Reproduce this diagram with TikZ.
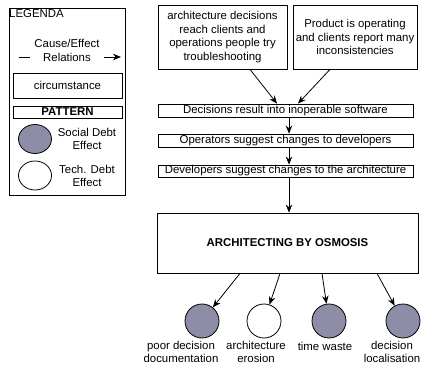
\documentclass[tikz,border=0pt]{standalone}
\usepackage{fontspec}
\setmainfont{Liberation Sans}
\usetikzlibrary{arrows.meta,shapes.geometric}
\definecolor{social}{RGB}{141,141,167}
\begin{document}
\begin{tikzpicture}[x=1pt,y=-1pt,
  every node/.style={font=\fontsize{11.4}{13.7}\selectfont},
  box/.style={draw, line width=0.8pt, inner sep=0pt, align=center},
  arr/.style={-{Stealth[length=8pt,width=6.5pt]}, line width=0.8pt},
  sdebt/.style={draw, circle, fill=social, minimum size=34pt, inner sep=0pt, line width=0.8pt},
  tdebt/.style={draw, circle, fill=white, minimum size=34pt, inner sep=0pt, line width=0.8pt},
  lbl/.style={align=center, inner sep=0pt}]
\useasboundingbox (0,0) rectangle (421,369);

% ---- legend ----
\node[box, minimum width=116pt, minimum height=187pt] (legend) at (67,101.5) {};
\node[anchor=north west, inner sep=0pt] (legtitle) at (9,9.5) {LEGENDA};
\coordinate (ls) at (19,57);
\coordinate (le) at (121,57);
\draw[arr] (ls) -- (le);
\node[lbl, fill=white, inner xsep=4pt] (ce) at (67,50.5) {Cause/Effect\\Relations};
\node[box, minimum width=109pt, minimum height=25pt] (circ) at (67.5,85.5) {circumstance};
\node[box, minimum width=109pt, minimum height=12pt] (pat) at (67.5,112) {\textbf{PATTERN}};
\node[draw, ellipse, fill=social, minimum width=33pt, minimum height=29pt, inner sep=0pt, line width=0.8pt] (sd) at (35,139) {};
\node[lbl] (sdt) at (87,139) {Social Debt\\Effect};
\node[draw, ellipse, fill=white, minimum width=33pt, minimum height=29pt, inner sep=0pt, line width=0.8pt] (td) at (35,175.5) {};
\node[lbl] (tdt) at (87,176) {Tech. Debt\\Effect};

% ---- main chain ----
\node[box, minimum width=129pt, minimum height=64pt] (b1) at (222.5,37)
  {architecture decisions\\reach clients and\\operations people try\\troubleshooting};
\node[box, minimum width=124pt, minimum height=64pt] (b2) at (355,37)
  {Product is operating\\and clients report many\\inconsistencies};
\node[box, minimum width=255pt, minimum height=13pt] (dec) at (285.5,110.5)
  {Decisions result into inoperable software};
\node[box, minimum width=255pt, minimum height=13pt] (ops) at (285.5,140.5)
  {Operators suggest changes to developers};
\node[box, minimum width=255pt, minimum height=12pt] (dev) at (285.5,171)
  {Developers suggest changes to the architecture};
\node[box, minimum width=261pt, minimum height=60pt] (arch) at (287.5,243)
  {\textbf{ARCHITECTING BY OSMOSIS}};

\draw[arr] ([xshift=27.5pt]b1.south) -- ([xshift=-8.5pt]dec.north);
\draw[arr] ([xshift=-25pt]b2.south) -- ([xshift=12.5pt]dec.north);
\draw[arr] ([xshift=3.5pt]dec.south) -- ([xshift=3.5pt]ops.north);
\draw[arr] ([xshift=3.5pt]ops.south) -- ([xshift=3.5pt]dev.north);
\draw[arr] ([xshift=3.5pt]dev.south) -- ([xshift=1.5pt]arch.north);

% ---- effects ----
\node[sdebt] (c1) at (202,321) {};
\node[tdebt] (c2) at (264,321) {};
\node[sdebt] (c3) at (329,321) {};
\node[sdebt] (c4) at (403,321) {};

\draw[arr] ([xshift=-47.5pt]arch.south) -- (c1);
\draw[arr] ([xshift=-7.5pt]arch.south) -- (c2);
\draw[arr] ([xshift=34.5pt]arch.south) -- (c3);
\draw[arr] ([xshift=89.5pt]arch.south) -- (c4);

\node[lbl] (l1) at (181,352) {poor decision\\documentation};
\node[lbl] (l2) at (256,352) {architecture\\erosion};
\node[lbl] (l3) at (325,346) {time waste};
\node[lbl] (l4) at (392,352) {decision\\localisation};
\end{tikzpicture}
\end{document}
